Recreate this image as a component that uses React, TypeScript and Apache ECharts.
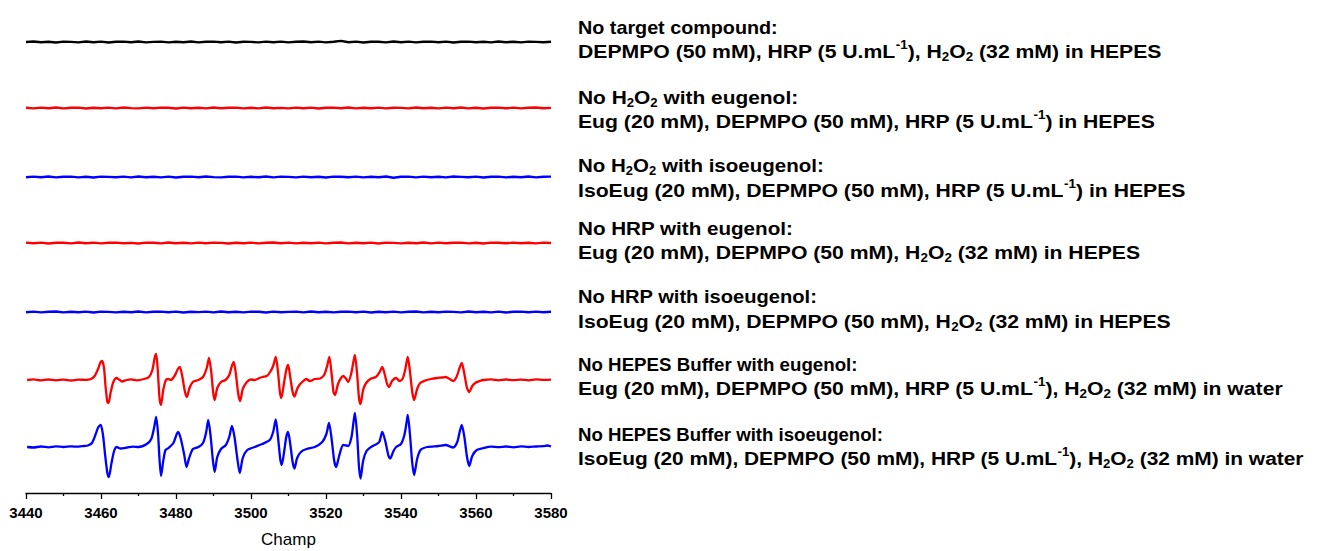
import React, { useEffect, useRef } from "react";
import * as echarts from "echarts";

// ---------- data ----------
const FIELD_GRID = [
  3440, 3442, 3444, 3446, 3448, 3450, 3452, 3454, 3456, 3458, 3460, 3462, 3464, 3466, 3468, 3470,
  3472, 3474, 3476, 3478, 3480, 3482, 3484, 3486, 3488, 3490, 3492, 3494, 3496, 3498, 3500, 3502,
  3504, 3506, 3508, 3510, 3512, 3514, 3516, 3518, 3520, 3522, 3524, 3526, 3528, 3530, 3532, 3534,
  3536, 3538, 3540, 3542, 3544, 3546, 3548, 3550, 3552, 3554, 3556, 3558, 3560, 3562, 3564, 3566,
  3568, 3570, 3572, 3574, 3576, 3578, 3580,
];

// flat control spectra (intensity, baseline noise only)
const NO_TARGET = [
  0, 0.5, -0.3, 0.3, -0.5, 0.4, 0.1, -0.4, 0.5, -0.2, 0.4, -0.5, 0.2, 0.4, -0.3, 0.5, -0.4, 0.1,
  0.4, -0.4, 0.3, -0.2, 0.5, -0.4, 0.2, 0.4, -0.3, 0.4, -0.5, 0.3, 0.1, -0.4, 0.4, -0.2, 0.4,
  -0.4, 0.2, 0.5, -0.3, 0.4, -0.4, 0.3, 1.1, -0.2, 0.4, -0.5, 0.3, 0.2, -0.4, 0.5, -0.3, 0.4,
  -0.4, 0.2, 0.4, -0.2, 0.4, -0.5, 0.3, 0.4, -0.3, 0.2, -0.4, 0.5, -0.2, 0.3, -0.4, 0.4, 0.1,
  -0.3, 0.2,
];
const NO_H2O2_EUG = [
  0.2, -0.4, 0.4, -0.3, 0.5, -0.4, 0.2, 0.4, -0.5, 0.3, -0.2, 0.4, -0.4, 0.5, -0.1, -0.4, 0.4,
  -0.3, 0.4, 0.2, -0.5, 0.4, -0.2, 0.3, -0.4, 0.5, -0.3, 0.2, 0.4, -0.4, 0.3, -0.4, 0.5, -0.2,
  0.1, -0.4, 0.4, -0.3, 0.4, -0.5, 0.2, 0.4, -0.3, 0.5, -0.4, 0.2, -0.2, 0.4, -0.4, 0.3, 0.1,
  -0.4, 0.5, -0.3, 0.2, -0.4, 0.4, -0.2, 0.5, -0.4, 0.3, -0.5, 0.2, 0.4, -0.3, 0.4, -0.4, 0.2,
  0.5, -0.3, 0.1,
];
const NO_H2O2_ISOEUG = [
  -0.3, 0.4, -0.2, 0.5, -0.4, 0.3, 0.4, -0.4, 0.2, -0.5, 0.4, 0.1, -0.3, 0.4, -0.4, 0.5, -0.2,
  0.3, -0.4, 0.4, -0.5, 0.2, 0.4, -0.3, 0.5, -0.1, -0.4, 0.3, 0.4, -0.4, 0.2, -0.3, 0.5, -0.4,
  0.4, 0.1, -0.4, 0.4, -0.2, 0.3, -0.5, 0.4, 0.2, -0.3, 0.4, -0.4, 0.3, -0.2, 0.5, -0.8, 0.2,
  0.4, -0.4, 0.4, -0.2, 0.3, -0.4, 0.5, 0.1, -0.3, 0.4, -0.5, 0.2, 0.4, -0.4, 0.3, -0.2, 0.5,
  -0.4, 0.2, 0.4,
];
const NO_HRP_EUG = [
  0.4, -0.3, 0.4, -0.5, 0.2, 0.3, -0.4, 0.5, -0.2, 0.4, -0.4, 0.2, 0.4, -0.3, 0.1, -0.5, 0.4,
  0.3, -0.4, 0.5, -0.2, 0.2, -0.4, 0.4, -0.3, 0.4, 0.1, -0.5, 0.3, -0.2, 0.4, -0.4, 0.2, 0.5,
  -0.3, 0.4, -0.4, 0.2, -0.2, 0.4, -0.4, 0.3, 0.5, -0.4, 0.2, -0.3, 0.4, -0.5, 0.4, 0.1, -0.4,
  0.3, -0.2, 0.5, -0.4, 0.4, -0.3, 0.2, 0.4, -0.4, 0.3, -0.5, 0.4, 0.2, -0.3, 0.4, -0.2, 0.3,
  -0.4, 0.4, 0,
];
const NO_HRP_ISOEUG = [
  -0.2, 0.4, -0.4, 0.3, 0.5, -0.4, 0.2, -0.3, 0.4, -0.5, 0.4, 0.1, -0.4, 0.3, -0.2, 0.5, -0.4,
  0.2, 0.4, -0.3, 0.4, -0.5, 0.3, -0.1, 0.4, -0.4, 0.5, -0.2, 0.3, -0.4, 0.4, 0.2, -0.5, 0.4,
  -0.3, 0.1, 0.4, -0.4, 0.5, -0.2, 0.3, -0.4, 0.2, 0.4, -0.3, 0.4, -0.5, 0.2, -0.2, 0.4, -0.4,
  0.3, 0.5, -0.4, 0.2, -0.3, 0.4, 0.1, -0.4, 0.5, -0.2, 0.3, -0.4, 0.4, -0.5, 0.2, 0.4, -0.3,
  0.4, -0.2, 0.3,
];

// DEPMPO adduct spectra (field, intensity)
const NO_HEPES_EUG: [number, number][] = [
  [3440.3, 0], [3442, 0.6], [3444, -0.4], [3446, 0.5], [3448, -0.3], [3450, 0.4], [3452, -0.5],
  [3454, 0.3], [3456, 0.2], [3457.3, 1], [3458.3, 4], [3459.2, 11], [3459.9, 18], [3460.3, 19],
  [3460.8, 12], [3461.2, -6], [3461.7, -22], [3462.0, -23], [3462.6, -12], [3463.3, -2],
  [3464.1, 2], [3464.8, 0.5], [3465.6, -1.5], [3466.8, 0], [3468, 0.6], [3469.5, -0.3],
  [3471.5, 1], [3472.8, 3], [3473.7, 10], [3474.3, 22], [3474.7, 26], [3475.1, 12], [3475.6, -18],
  [3476.0, -25], [3476.6, -10], [3477.3, 0], [3477.9, 1], [3478.6, 0], [3479.6, 4], [3480.5, 11],
  [3481.0, 13], [3481.6, 5], [3482.4, -12], [3482.9, -17], [3483.6, -8], [3484.5, -2], [3486, 0],
  [3487.2, 3], [3488.2, 12], [3488.8, 22], [3489.4, 8], [3489.9, -12], [3490.3, -20], [3491.0, -8],
  [3492.0, -2], [3493.2, 0], [3494.2, 5], [3494.9, 14], [3495.4, 18], [3496.0, 5], [3496.6, -14],
  [3497.1, -21], [3497.8, -9], [3498.9, -2], [3500, 0.5], [3501, 0], [3502, 1.5], [3503, 3],
  [3504.2, 4], [3505.1, 8], [3505.9, 14], [3506.6, 23], [3507.2, 8], [3507.7, -12], [3508.1, -18],
  [3508.8, -3], [3509.4, 10], [3509.9, 15], [3510.5, 2], [3511.1, -12], [3511.6, -16.5],
  [3512.3, -9], [3513.1, -4], [3514.0, -1], [3514.7, 1], [3515.7, -1], [3517, 1], [3518.4, 1.5],
  [3519.5, 5], [3520.3, 14], [3520.9, 23], [3521.5, 6], [3522.0, -12], [3522.4, -15], [3523.2, -4],
  [3524.0, 2], [3524.6, 4], [3525.4, 1], [3525.9, -2], [3526.7, 6], [3527.3, 18], [3527.7, 25],
  [3528.3, 6], [3528.8, -18], [3529.2, -24], [3529.9, -10], [3530.7, -3], [3532.0, 1.5],
  [3533.3, 3], [3534.3, 8], [3535.0, 13], [3535.7, 5], [3536.3, -4], [3536.8, -7], [3537.6, -1],
  [3538.7, 2], [3539.6, -1], [3540.4, 1], [3541.1, 10], [3541.8, 23], [3542.4, 8], [3543.0, -12],
  [3543.5, -20], [3544.3, -9], [3545.1, -3], [3546.5, -0.5], [3548, 1], [3549.5, 2], [3551.0, 2.5],
  [3551.9, 3], [3553.0, 1], [3553.9, -1], [3554.8, 3], [3555.6, 12], [3556.2, 17], [3556.9, 6],
  [3557.6, -8], [3558.2, -12], [3559.0, -6], [3560.0, -2.5], [3561, -1], [3562, 0], [3564, 0.6],
  [3566, -0.3], [3568, 0.5], [3570, -0.2], [3572, 0.4], [3574, -0.3], [3576, 0.6], [3578, 0.2],
  [3580, 0.4],
];
const NO_HEPES_ISOEUG: [number, number][] = [
  [3440.3, 0], [3442, -0.5], [3444, 0.5], [3446, -0.3], [3448, 0.6], [3450, 0], [3452, 0.6],
  [3454, 0.3], [3455.5, 1], [3456.5, 1.5], [3457.6, 4], [3458.5, 12], [3459.3, 20], [3459.9, 22],
  [3460.5, 13], [3461.1, -8], [3461.7, -26], [3462.1, -30], [3462.8, -16], [3463.5, -4],
  [3464.2, 0], [3465.2, -1.5], [3467, -0.5], [3468.5, 0.4], [3470, 0], [3472.2, 3], [3473.4, 8],
  [3474.2, 20], [3474.7, 30], [3475.2, 14], [3475.6, -12], [3476.0, -29], [3476.6, -14],
  [3477.2, -3], [3478.0, -1], [3479.3, 4], [3480.2, 13], [3480.6, 15], [3481.3, 8], [3482.2, -8],
  [3482.8, -20], [3483.5, -11], [3484.5, -2], [3486.0, 0], [3487.2, 4], [3488.0, 14], [3488.6, 27],
  [3489.2, 12], [3489.8, -12], [3490.3, -25], [3491.0, -10], [3492.0, -2], [3493.3, 2],
  [3494.2, 10], [3494.9, 21], [3495.6, 10], [3496.3, -10], [3497.0, -26], [3497.8, -11], [3499, -3],
  [3501, 0], [3503, 3], [3505.0, 7], [3505.9, 15], [3506.6, 27.5], [3507.2, 10], [3507.8, -12],
  [3508.2, -18], [3508.9, -3], [3509.4, 10], [3509.9, 15], [3510.5, 2], [3511.1, -15],
  [3511.6, -21.5], [3512.3, -11], [3513.3, -5], [3514.8, -2], [3517, 0], [3519.0, 5], [3520.1, 13],
  [3520.8, 24], [3521.5, 8], [3522.2, -14], [3522.7, -20], [3523.5, -9], [3524.6, 2], [3525.9, 1],
  [3526.8, 10], [3527.3, 24], [3527.7, 34], [3528.3, 12], [3528.8, -20], [3529.2, -31.5],
  [3529.9, -14], [3530.8, -4], [3532.0, 0], [3533, 2], [3534.2, 5], [3535.0, 15], [3535.8, 6],
  [3536.6, -8], [3537.1, -11.5], [3538.0, -4], [3538.7, 0], [3540.0, 3], [3540.9, 12],
  [3541.5, 25], [3541.8, 32], [3542.4, 12], [3543.0, -16], [3543.5, -28], [3544.3, -12],
  [3545.2, -3], [3547, 0], [3550, 1], [3551.9, 2], [3553.9, -0.5], [3555.0, 5], [3555.7, 16],
  [3556.2, 22], [3556.9, 10], [3557.6, -10], [3558.2, -19], [3559.0, -9], [3560.2, -3], [3562, -1],
  [3564, 0.4], [3566, -0.2], [3568, 0.5], [3570, -0.3], [3572, 0.6], [3574, 0], [3576, 0.5],
  [3578, 0.8], [3579, 1.5], [3580, 0.5],
];

const X_TICKS = [3440, 3460, 3480, 3500, 3520, 3540, 3560, 3580];
const X_NAME = "Champ";

const ANNOTATION_LINES = [
  "No target compound:",
  "DEPMPO (50 mM), HRP (5 U.mL{sup|-1}), H{sub|2}O{sub|2} (32 mM) in HEPES",
  "No H{sub|2}O{sub|2} with eugenol:",
  "Eug (20 mM), DEPMPO (50 mM), HRP (5 U.mL{sup|-1}) in HEPES",
  "No H{sub|2}O{sub|2} with isoeugenol:",
  "IsoEug (20 mM), DEPMPO (50 mM), HRP (5 U.mL{sup|-1}) in HEPES",
  "No HRP with eugenol:",
  "Eug (20 mM), DEPMPO (50 mM), H{sub|2}O{sub|2} (32 mM) in HEPES",
  "No HRP with isoeugenol:",
  "IsoEug (20 mM), DEPMPO (50 mM), H{sub|2}O{sub|2} (32 mM) in HEPES",
  "No HEPES Buffer with eugenol:",
  "Eug (20 mM), DEPMPO (50 mM), HRP (5 U.mL{sup|-1}), H{sub|2}O{sub|2} (32 mM) in water",
  "No HEPES Buffer with isoeugenol:",
  "IsoEug (20 mM), DEPMPO (50 mM), HRP (5 U.mL{sup|-1}), H{sub|2}O{sub|2} (32 mM) in water",
];

// ---------- layout ----------
const W = 1318;
const H = 551;
const GRID_LEFT = 26;
const GRID_RIGHT_X = 551;
const AXIS_Y = 493;
const TRACE_BASE_Y = [42, 108, 177, 243, 312, 380, 447];
const TRACE_COLORS = ["#000000", "#ff0000", "#0000ff", "#ff0000", "#0000ff", "#ff0000", "#0000ff"];
const ANNOT_X = 578;
const ANNOT_Y = [27, 51, 97, 121, 165, 190, 228, 252, 296, 321, 364, 388, 434, 458];
const ANNOT_SCALE = [1.04, 1.115, 1.1, 1.115, 1.08, 1.115, 1.085, 1.115, 1.06, 1.115, 0.985, 1.115, 0.98, 1.1];
const FONT = '"Liberation Sans", Arial, Helvetica, sans-serif';

export default function App() {
  const ref = useRef<HTMLDivElement>(null);

  useEffect(() => {
    if (!ref.current) return;
    const chart = echarts.init(ref.current, undefined, { renderer: "svg" });

    const flat = [NO_TARGET, NO_H2O2_EUG, NO_H2O2_ISOEUG, NO_HRP_EUG, NO_HRP_ISOEUG];
    const toY = (k: number, v: number) => AXIS_Y - TRACE_BASE_Y[k] + v;

    const series: any[] = [];
    flat.forEach((arr, k) => {
      series.push({
        type: "line",
        showSymbol: false,
        silent: true,
        data: FIELD_GRID.map((f, i) => [f, toY(k, arr[i] ?? 0)]),
        lineStyle: { color: TRACE_COLORS[k], width: 2.4 },
        itemStyle: { color: TRACE_COLORS[k] },
      });
    });
    [NO_HEPES_EUG, NO_HEPES_ISOEUG].forEach((arr, j) => {
      const k = 5 + j;
      series.push({
        type: "line",
        showSymbol: false,
        silent: true,
        smooth: 0.25,
        data: arr.map(([f, v]) => [f, toY(k, v)]),
        lineStyle: { color: TRACE_COLORS[k], width: 2.3 },
        itemStyle: { color: TRACE_COLORS[k] },
      });
    });

    const rich = {
      sub: { fontSize: 12, fontWeight: "bold", fontFamily: FONT, verticalAlign: "bottom", lineHeight: 14, fill: "#000" },
      sup: { fontSize: 12, fontWeight: "bold", fontFamily: FONT, verticalAlign: "top", lineHeight: 14, fill: "#000" },
    };

    chart.setOption({
      animation: false,
      grid: {
        left: GRID_LEFT,
        right: W - GRID_RIGHT_X,
        top: 0,
        bottom: H - AXIS_Y,
        containLabel: false,
        outerBoundsMode: "none",
      },
      xAxis: {
        type: "value",
        min: X_TICKS[0],
        max: X_TICKS[X_TICKS.length - 1],
        interval: X_TICKS[1] - X_TICKS[0],
        axisLine: { show: true, onZero: false, lineStyle: { color: "#000", width: 1.3 } },
        axisTick: { show: true, inside: false, length: 6, lineStyle: { color: "#000", width: 1.3 } },
        minorTick: { show: true, splitNumber: 2, length: 3, lineStyle: { color: "#000", width: 1.3 } },
        splitLine: { show: false },
        minorSplitLine: { show: false },
        axisLabel: {
          color: "#000",
          fontSize: 15,
          fontWeight: "bold",
          fontFamily: FONT,
          margin: 12,
          formatter: (v: number) => String(v),
        },
        name: X_NAME,
        nameLocation: "middle",
        nameGap: 37,
        nameTextStyle: { color: "#000", fontSize: 17, fontFamily: FONT, lineHeight: 19 },
      },
      yAxis: { type: "value", min: 0, max: AXIS_Y, show: false },
      series,
      graphic: ANNOTATION_LINES.map((t, i) => ({
        type: "text",
        x: ANNOT_X,
        y: ANNOT_Y[i],
        scaleX: ANNOT_SCALE[i],
        silent: true,
        style: {
          text: t,
          fill: "#000",
          fontSize: 19,
          fontWeight: "bold",
          fontFamily: FONT,
          verticalAlign: "middle",
          lineHeight: 24,
          rich,
        },
      })),
    });

    return () => chart.dispose();
  }, []);

  return (
    <div
      ref={ref}
      style={{ position: "absolute", left: 0, top: 0, width: W, height: H, background: "#fff" }}
    />
  );
}
